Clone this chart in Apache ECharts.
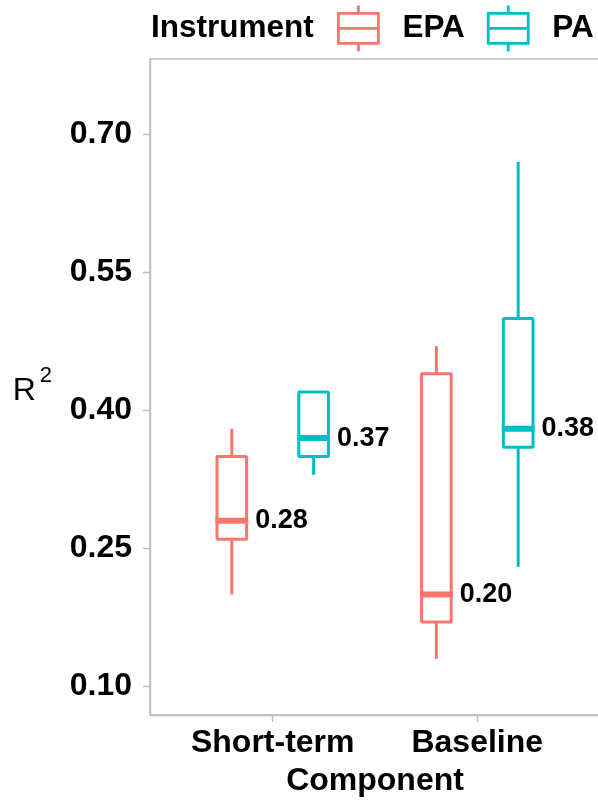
<!DOCTYPE html>
<html><head><meta charset="utf-8">
<script src="https://cdn.jsdelivr.net/npm/echarts@6/dist/echarts.min.js"></script>
<style>html,body{margin:0;padding:0;background:#fff}#c{width:598px;height:800px}</style>
</head><body><div id="c"></div>
<script>
const categories = ['Short-term', 'Baseline'];
const instruments = ['EPA', 'PA'];
// [min, Q1, median, Q3, max] per category
const epaStats = [[0.20, 0.26, 0.28, 0.35, 0.38], [0.13, 0.17, 0.20, 0.44, 0.47]];
const paStats = [[0.33, 0.35, 0.37, 0.42, 0.42], [0.23, 0.36, 0.38, 0.50, 0.67]];
const yTicks = [0.10, 0.25, 0.40, 0.55, 0.70];
const colors = ['#F8766D', '#00BFC4'];

const FONT = '"Liberation Sans", Arial, sans-serif';
const GRAY = '#bdbdbd';
const DODGE = 0.2, BOX_W = 0.145, LW = 3, MED_H = 6;
const ICON = 'path://M20,0V8M0,8H40V38H0ZM0,23H40M20,38V46';

function makeRender(offset, color) {
  return function (params, api) {
    const x = api.value(0) + offset;
    const lo = api.value(1), q1 = api.value(2), med = api.value(3), q3 = api.value(4), hi = api.value(5);
    const pTL = api.coord([x - BOX_W / 2, q3]);
    const pBR = api.coord([x + BOX_W / 2, q1]);
    const pLo = api.coord([x, lo]);
    const pHi = api.coord([x, hi]);
    const pMed = api.coord([x, med]);
    const xl = pTL[0], xr = pBR[0], yt = pTL[1], yb = pBR[1];
    const st = { stroke: color, lineWidth: LW };
    return {
      type: 'group',
      children: [
        { type: 'line', shape: { x1: pHi[0], y1: pHi[1], x2: pHi[0], y2: yt }, style: st },
        { type: 'line', shape: { x1: pLo[0], y1: yb, x2: pLo[0], y2: pLo[1] }, style: st },
        { type: 'rect', shape: { x: xl, y: yt, width: xr - xl, height: yb - yt, r: 1 }, style: { fill: '#fff', stroke: color, lineWidth: LW } },
        { type: 'rect', shape: { x: xl - LW / 2, y: pMed[1] - MED_H / 2, width: xr - xl + LW, height: MED_H }, style: { fill: color } },
        { type: 'text', x: xr + LW / 2 + 7, y: pMed[1],
          style: { text: med.toFixed(2), fill: '#000', fontSize: 27, fontWeight: 'bold', fontFamily: FONT, align: 'left', verticalAlign: 'middle' } }
      ]
    };
  };
}

const statsList = [epaStats, paStats];
const series = instruments.map((name, k) => ({
  name: name,
  type: 'custom',
  renderItem: makeRender(k === 0 ? -DODGE : DODGE, colors[k]),
  encode: { x: 0, y: [1, 2, 3, 4, 5] },
  itemStyle: { color: colors[k] },
  data: statsList[k].map((s, i) => [i + 1].concat(s))
}));

const chart = echarts.init(document.getElementById('c'), null, { renderer: 'canvas' });
chart.setOption({
  backgroundColor: '#fff',
  animation: false,
  title: {
    text: 'Instrument', left: 151, top: 12, padding: 0,
    textStyle: { fontSize: 31.5, fontWeight: 'bold', fontFamily: FONT, color: '#000' }
  },
  legend: {
    left: 337, top: 4, padding: 0, itemWidth: 40, itemHeight: 46, itemGap: 22,
    textStyle: { fontSize: 31.5, fontWeight: 'bold', fontFamily: FONT, color: '#000', padding: [0, 0, 0, 19] },
    data: instruments.map((name, k) => ({
      name: name, icon: ICON,
      itemStyle: { color: '#fff', borderColor: colors[k], borderWidth: 2.8 }
    }))
  },
  grid: {
    left: 150, top: 59, width: 450, height: 656,
    outerBoundsMode: 'none', containLabel: false,
    show: true, borderColor: GRAY, borderWidth: 1.4, backgroundColor: 'transparent'
  },
  xAxis: {
    type: 'value', min: 0.4, max: 2.6,
    name: 'Component', nameLocation: 'middle', nameGap: 50,
    nameTextStyle: { fontSize: 32, fontWeight: 'bold', fontFamily: FONT, color: '#000' },
    axisLine: { show: true, lineStyle: { color: GRAY, width: 1.4 } },
    axisTick: { show: true, length: 7, customValues: [1, 2], lineStyle: { color: GRAY, width: 1.4 } },
    axisLabel: {
      customValues: [1, 2], margin: 12,
      formatter: v => categories[Math.round(v) - 1] || '',
      fontSize: 32, fontWeight: 'bold', fontFamily: FONT, color: '#000'
    },
    splitLine: { show: false }
  },
  yAxis: {
    type: 'value', min: 0.069, max: 0.782,
    name: '{r|R}{s|2}', nameLocation: 'middle', nameGap: 98, nameRotate: 0,
    nameTextStyle: {
      color: '#000', fontFamily: FONT, padding: [9, 0, 0, 0],
      rich: {
        r: { fontSize: 32, fontFamily: FONT, color: '#000', lineHeight: 53 },
        s: { fontSize: 22, fontFamily: FONT, color: '#000', verticalAlign: 'top', lineHeight: 22, padding: [0, 0, 0, 4] }
      }
    },
    axisLine: { show: true, lineStyle: { color: GRAY, width: 1.4 } },
    axisTick: { show: true, length: 7, customValues: yTicks, lineStyle: { color: GRAY, width: 1.4 } },
    axisLabel: {
      customValues: yTicks, margin: 18,
      formatter: v => v.toFixed(2),
      fontSize: 32, fontWeight: 'bold', fontFamily: FONT, color: '#000'
    },
    splitLine: { show: false }
  },
  series: series
});
</script>
</body></html>
